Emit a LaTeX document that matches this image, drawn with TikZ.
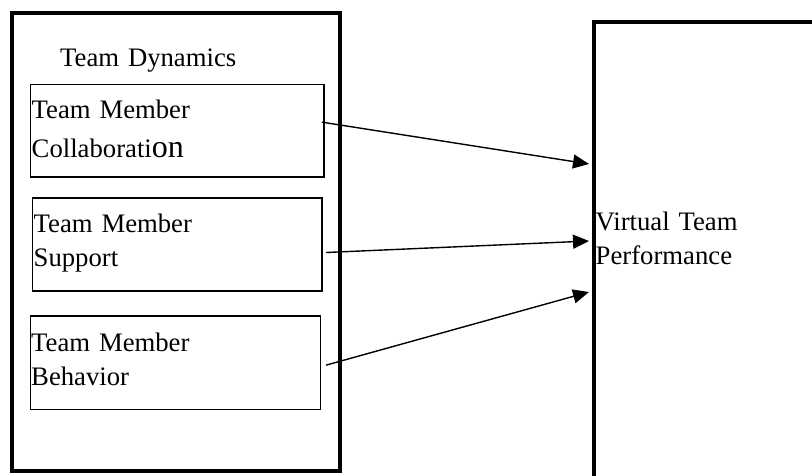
\documentclass[tikz,border=0pt]{standalone}
\usepackage{fontspec}
\setmainfont{Liberation Serif}
\usetikzlibrary{arrows.meta}
\def\fs{26.7}
\tikzset{
	frame/.style={
		rectangle,
		draw=black,
		line width=4pt,
		inner sep=0pt,
		outer sep=0pt,
		anchor=north west,
	},
	factor/.style={
		rectangle,
		draw=black,
		line width=1.6pt,
		inner sep=0pt,
		outer sep=0pt,
		anchor=north west,
	},
	caption/.style={
		anchor=base west,
		inner sep=0pt,
		align=left,
		text width=8cm,
		font=\fontsize{\fs}{34}\selectfont,
	},
	link/.style={
		line width=1.4pt,
		-{Triangle[length=16pt,width=14pt]},
	},
}

\begin{document}
\begin{tikzpicture}[x=1pt,y=-1pt]
    \useasboundingbox (0,0) rectangle (812,475);
    \clip (0,0) rectangle (812,475);

    \node[frame, minimum width=328.5, minimum height=458] (dyn) at (11.5,13) {};
    \node[frame, minimum width=400, minimum height=600] (perfbox) at (594,22) {};

    \node[factor, minimum width=293.7, minimum height=92.7] (collab) at (30.3,84.3) {};
    \node[factor, minimum width=289.5, minimum height=93] (supp) at (32.5,198) {};
    \node[factor, minimum width=290.2, minimum height=93.3] (behav) at (30.3,316) {};

    \node[caption] (dyntext) at (60,66.7) {Team Dynamics};
    \node[caption] (collabtext) at (31.5,118) {Team Member\\[5.7pt]Collaborati{\fontsize{32}{34}\selectfont on}};
    \node[caption] (supptext) at (33.5,232.7) {Team Member\\Support};
    \node[caption] (behavtext) at (31,351) {Team Member\\Behavior};
    \node[caption] (perftext) at (595.5,230.7) {Virtual Team\\Performance};

    \coordinate (in1) at ([shift={(-5,142)}]perfbox.north west);
    \coordinate (in2) at ([shift={(-5,219)}]perfbox.north west);
    \coordinate (in3) at ([shift={(-5,270)}]perfbox.north west);

    \draw[link] ([shift={(-2,-8.5)}]collab.east) -- (in1);
    \draw[link] ([shift={(4,8)}]supp.east) -- (in2);
    \draw[link] ([shift={(5.5,2.5)}]behav.east) -- (in3);
    %\draw[red] (0,0) grid[step=50] (812,475);
\end{tikzpicture}
\end{document}
